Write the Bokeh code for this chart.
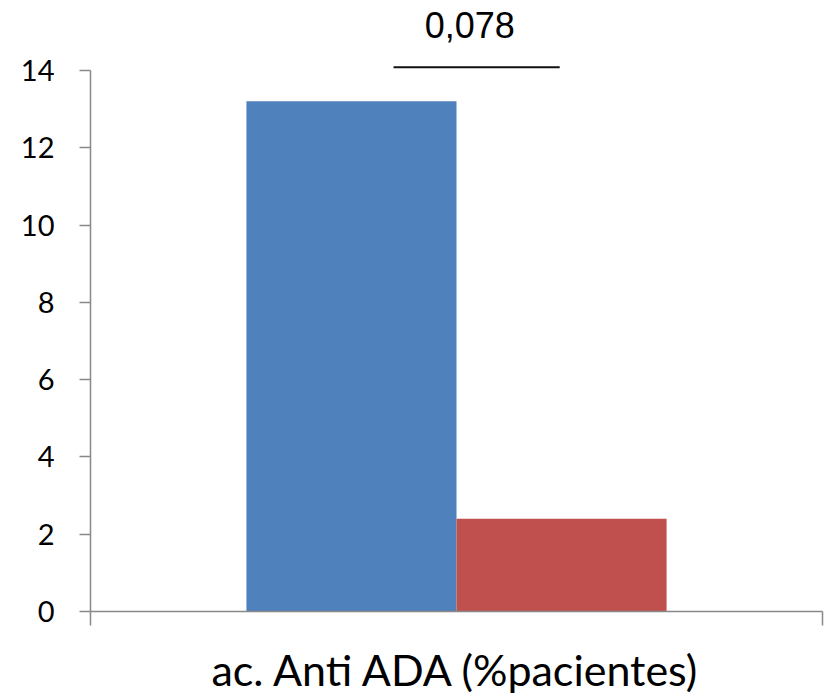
from bokeh.plotting import figure
from bokeh.models import (ColumnDataSource, Range1d, LinearAxis, FixedTicker)
from bokeh.core.properties import value
from bokeh.embed import file_html
from bokeh.resources import INLINE

# data
categories = ["ac. Anti ADA (%pacientes)"]
series_a = [13.2]
series_b = [2.4]
y_ticks = [0, 2, 4, 6, 8, 10, 12, 14]
p_value_text = "0,078"
bracket_height = 14.08

BLUE = "#4F81BD"
RED = "#C0504D"
AXIS_GRAY = "#888888"
TICK_FONT = "Lato"

# each category occupies one unit on the x scale, its centre at i + 0.5
centers = [i + 0.5 for i in range(len(categories))]
bar_w = 0.287

src = ColumnDataSource(dict(
    xa=[c - bar_w / 2 for c in centers], a=series_a,
    xb=[c + bar_w / 2 for c in centers], b=series_b,
))

p = figure(width=825, height=697, output_backend="svg", toolbar_location=None,
           x_range=Range1d(0, len(categories)), y_range=Range1d(0, 15.81),
           x_axis_location=None,
           min_border_left=90, min_border_right=3, min_border_top=0,
           min_border_bottom=86)
p.outline_line_color = None
p.xgrid.visible = False
p.ygrid.visible = False
p.background_fill_color = "white"
p.border_fill_color = "white"

p.vbar(x="xa", top="a", width=bar_w, source=src, fill_color=BLUE, line_color=None)
p.vbar(x="xb", top="b", width=bar_w, source=src, fill_color=RED, line_color=None)

# significance bracket and p-value
sig = ColumnDataSource(dict(
    x0=[c - 0.086 for c in centers], x1=[c + 0.141 for c in centers],
    xt=[c + 0.018 for c in centers], y=[bracket_height], t=[p_value_text],
))
p.segment(x0="x0", y0="y", x1="x1", y1="y", source=sig,
          line_color="#111111", line_width=2)
p.text(x="xt", y="y", text="t", source=sig,
       text_font=value("Liberation Sans"), text_font_size="36px",
       text_align="center", text_baseline="alphabetic", y_offset=-42,
       text_color="black")

# y axis
ya = p.yaxis[0]
ya.ticker = FixedTicker(ticks=y_ticks)
ya.bounds = (0, 14)
ya.axis_line_color = AXIS_GRAY
ya.axis_line_width = 1.5
ya.major_tick_line_color = AXIS_GRAY
ya.major_tick_line_width = 1.5
ya.major_tick_out = 11
ya.major_tick_in = 0
ya.minor_tick_line_color = None
ya.major_label_text_font = TICK_FONT
ya.major_label_text_font_size = "29px"
ya.major_label_text_color = "black"
ya.major_label_standoff = 25

# x axis: baseline with unlabeled ticks at the category edges
edges = list(range(len(categories) + 1))
edge_axis = LinearAxis(ticker=FixedTicker(ticks=edges),
                       major_label_overrides={e: "" for e in edges},
                       axis_line_color=AXIS_GRAY, axis_line_width=1.5,
                       major_tick_line_color=AXIS_GRAY, major_tick_line_width=1.5,
                       major_tick_out=14, major_tick_in=0,
                       minor_tick_line_color=None,
                       major_label_text_font_size="0px", major_label_standoff=0)
p.add_layout(edge_axis, "below")

# category names centred under each category
cat_axis = LinearAxis(ticker=FixedTicker(ticks=centers),
                      major_label_overrides={c: name for c, name in zip(centers, categories)},
                      axis_line_color=None, major_tick_line_color=None,
                      minor_tick_line_color=None,
                      major_tick_out=0, major_tick_in=0,
                      major_label_standoff=18,
                      major_label_text_font=TICK_FONT,
                      major_label_text_font_size="43px",
                      major_label_text_color="black")
p.add_layout(cat_axis, "below")

open("out.html", "w").write(file_html(p, INLINE))
